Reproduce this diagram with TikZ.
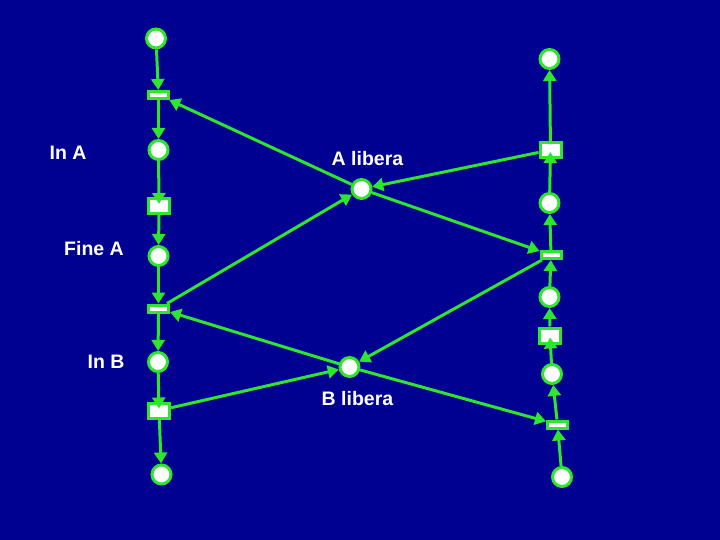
\documentclass[tikz,border=0pt]{standalone}
\usepackage{fontspec}
\setmainfont{Liberation Sans}
\usetikzlibrary{arrows.meta}
\definecolor{netblue}{RGB}{0,0,145}
\definecolor{netgreen}{RGB}{45,230,45}

\begin{document}
\begin{tikzpicture}[x=1pt,y=-1pt,
    place/.style={circle,draw=netgreen,fill=white,line width=3pt,minimum size=19pt,inner sep=0pt},
    tbar/.style={rectangle,draw=netgreen,fill=white,line width=3pt,minimum width=20pt,minimum height=7pt,inner sep=0pt},
    tbox/.style={rectangle,draw=netgreen,fill=white,line width=3pt,minimum width=21pt,minimum height=15pt,inner sep=0pt},
    arc/.style={draw=netgreen,line width=3pt,-{Triangle[length=11pt,width=13pt]}},
    arcin/.style={arc,shorten >=-7pt},
    tag/.style={text=white,font=\fontsize{19.5}{22}\selectfont\bfseries}]
    \fill [netblue] (0,0) rectangle (720,540);
    % process A (left)
    \node [place] (pa1) at (156,38.5) {};
    \node [tbar] (ta1) at (158.5,95) {};
    \node [place] (pa2) at (158.5,150) {};
    \node [tbox] (ta2) at (159,206) {};
    \node [place] (pa3) at (158.5,256) {};
    \node [tbar] (ta3) at (158.5,308.5) {};
    \node [place] (pa4) at (158,362) {};
    \node [tbox] (ta4) at (159,410.5) {};
    \node [place] (pa5) at (161.5,474.5) {};
    % process B (right)
    \node [place] (pb1) at (549.5,59) {};
    \node [tbox] (tb1) at (550.5,150) {};
    \node [place] (pb2) at (549.5,203) {};
    \node [tbar] (tb2) at (551,255) {};
    \node [place] (pb3) at (549.5,297) {};
    \node [tbox] (tb3) at (550,335.5) {};
    \node [place] (pb4) at (552,374) {};
    \node [tbar] (tb4) at (557.5,424.5) {};
    \node [place] (pb5) at (562,477) {};
    % resources
    \node [place] (ra) at (361.5,189) {};
    \node [place] (rb) at (349.5,367) {};
    % labels
    \node [tag] (lina) at (68,153) {In A};
    \node [tag] (lfina) at (94,249) {Fine A};
    \node [tag] (linb) at (106,362) {In B};
    \node [tag] (lra) at (367.5,159) {A libera};
    \node [tag] (lrb) at (357.5,399) {B libera};
    % left chain
    \draw [arc] (pa1) -- (ta1);
    \draw [arc] (ta1) -- (pa2);
    \draw [arcin] (pa2) -- (ta2);
    \draw [arc] (ta2) -- (pa3);
    \draw [arc] (pa3) -- (ta3);
    \draw [arc] (ta3) -- (pa4);
    \draw [arcin] (pa4) -- (ta4);
    \draw [arc] (ta4) -- (pa5);
    % right chain
    \draw [arc] (pb5) -- (tb4);
    \draw [arc] (tb4) -- (pb4);
    \draw [arcin] (pb4) -- (tb3);
    \draw [arc] (tb3) -- (pb3);
    \draw [arc] (pb3) -- (tb2);
    \draw [arc] (tb2) -- (pb2);
    \draw [arcin] (pb2) -- (tb1);
    \draw [arc] (tb1) -- (pb1);
    % resource arcs
    \draw [arc] (ra) -- (ta1);
    \draw [arc] (ta3) -- (ra);
    \draw [arc] (tb1) -- (ra);
    \draw [arc] (ra) -- (tb2);
    \draw [arc] (tb2) -- (rb);
    \draw [arc] (rb) -- (ta3);
    \draw [arc] (ta4) -- (rb);
    \draw [arc] (rb) -- (tb4);
\end{tikzpicture}
\end{document}
